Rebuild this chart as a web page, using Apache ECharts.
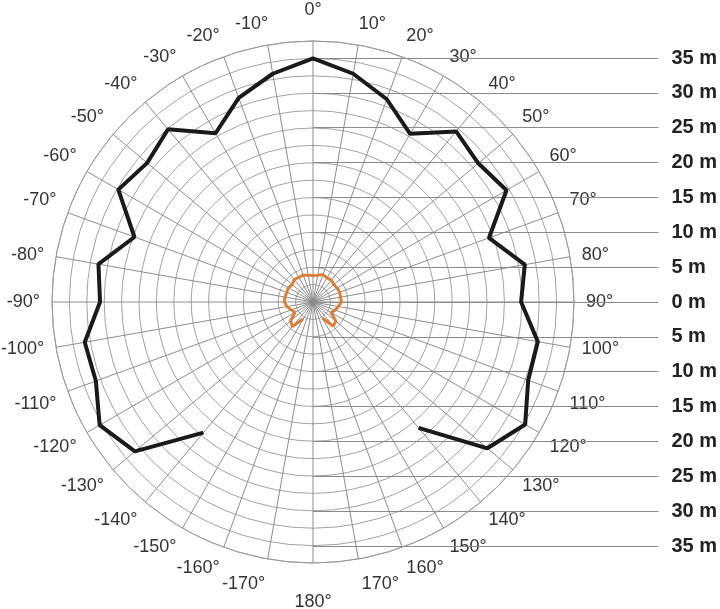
<!DOCTYPE html>
<html>
<head>
<meta charset="utf-8">
<script src="https://cdn.jsdelivr.net/npm/echarts@6/dist/echarts.min.js"></script>
<style>
html, body { margin: 0; padding: 0; background: #fff; }
#chart { width: 720px; height: 609px; }
</style>
</head>
<body>
<div id="chart"></div>
<script>
// black outline: angle (deg) -> distance (m)
var blackAngles = [-140,-130,-120,-110,-100,-90,-80,-70,-60,-50,-40,-30,-20,-10,0,10,20,30,40,50,60,70,80,90,100,110,120,130,140];
var blackDist   = [24.5,33.4,35.4,33.2,33.3,30.6,31.3,27.3,32.3,31.1,32.4,28,31.2,33.3,35,33.3,31,27.9,32,31,32.1,26.9,30.9,29.9,32.8,32.9,35.2,32.7,23.6];

// orange outline near the centre
var orangeAngles = [-150,-140,-130,-120,-110,-100,-90,-80,-70,-60,-50,-40,-30,-20,-10,0,10,20,30,40,50,60,70,80,90,100,110,120,130,140,150];
var orangeDist   = [2.8,4.6,4.2,3.0,3.3,3.8,4.1,4.1,4.0,4.1,3.9,4.2,4.1,4.1,3.9,3.8,3.9,4.2,4.0,4.1,3.9,4.0,4.1,4.0,4.1,3.7,3.4,3.0,4.3,4.5,2.7];

// scale marks on the right (m)
var scaleMin = -35, scaleMax = 35, scaleStep = 5;

var chart = echarts.init(document.getElementById('chart'));

function pairs(dist, ang) {
    var out = [];
    for (var i = 0; i < dist.length; i++) out.push([dist[i], ang[i]]);
    return out;
}

var option = {
    animation: false,
    textStyle: { fontFamily: 'Liberation Sans, Arial, sans-serif' },
    polar: {
        center: [313, 302],
        radius: 261
    },
    angleAxis: {
        type: 'value',
        min: -180,
        max: 180,
        interval: 10,
        startAngle: 270,
        clockwise: true,
        axisLine: { show: true, lineStyle: { color: '#9a9a9a', width: 1 } },
        axisTick: { show: false },
        splitLine: { show: true, lineStyle: { color: '#8c8c8c', width: 1 } },
        axisLabel: {
            margin: 12,
            fontSize: 18,
            color: '#333',
            formatter: function (v) {
                var t = v + '°';
                if (v === 0) return '{t0|' + t + '}';
                if (v === 10) return '{t10|' + t + '}';
                if (v === -10) return '{tm10|' + t + '}';
                if (v === 180 || v === -180) return '{b0|180°}';
                if (v === 170) return '{b10|' + t + '}';
                if (v === -170) return '{bm10|' + t + '}';
                return t;
            },
            rich: {
                t0: { fontSize: 18, color: '#333', padding: [0, 0, 10, 0] },
                t10: { fontSize: 18, color: '#333', padding: [0, 0, 0, 24] },
                tm10: { fontSize: 18, color: '#333', padding: [0, 28, 0, 0] },
                b0: { fontSize: 18, color: '#333', padding: [18, 0, 0, 0] },
                b10: { fontSize: 18, color: '#333', padding: [4, 0, 0, 40] },
                bm10: { fontSize: 18, color: '#333', padding: [4, 44, 0, 0] }
            }
        }
    },
    radiusAxis: {
        type: 'value',
        min: 0,
        max: 37.5,
        interval: 2.5,
        axisLine: { show: false },
        axisTick: { show: false },
        axisLabel: { show: false },
        splitLine: { show: true, lineStyle: { color: '#a0a0a0', width: 1 } }
    },
    grid: {
        left: 313,
        right: 58,
        top: 58,
        bottom: 63
    },
    xAxis: {
        type: 'value',
        show: false,
        min: 0,
        max: 1
    },
    yAxis: {
        type: 'value',
        position: 'right',
        min: scaleMin,
        max: scaleMax,
        interval: scaleStep,
        axisLine: { show: false },
        axisTick: { show: false },
        splitLine: { show: true, lineStyle: { color: '#8a8a8a', width: 1 } },
        axisLabel: {
            margin: 13,
            fontSize: 20,
            fontWeight: 'bold',
            color: '#222',
            formatter: function (v) { return Math.abs(v) + ' m'; }
        }
    },
    series: [
        {
            name: 'black',
            type: 'line',
            coordinateSystem: 'polar',
            data: pairs(blackDist, blackAngles),
            showSymbol: false,
            symbol: 'none',
            z: 5,
            lineStyle: { color: '#1a1a1a', width: 4 }
        },
        {
            name: 'orange',
            type: 'line',
            coordinateSystem: 'polar',
            data: pairs(orangeDist, orangeAngles),
            showSymbol: false,
            symbol: 'none',
            z: 5,
            lineStyle: { color: '#d8803a', width: 3 }
        }
    ]
};

chart.setOption(option);
</script>
</body>
</html>
